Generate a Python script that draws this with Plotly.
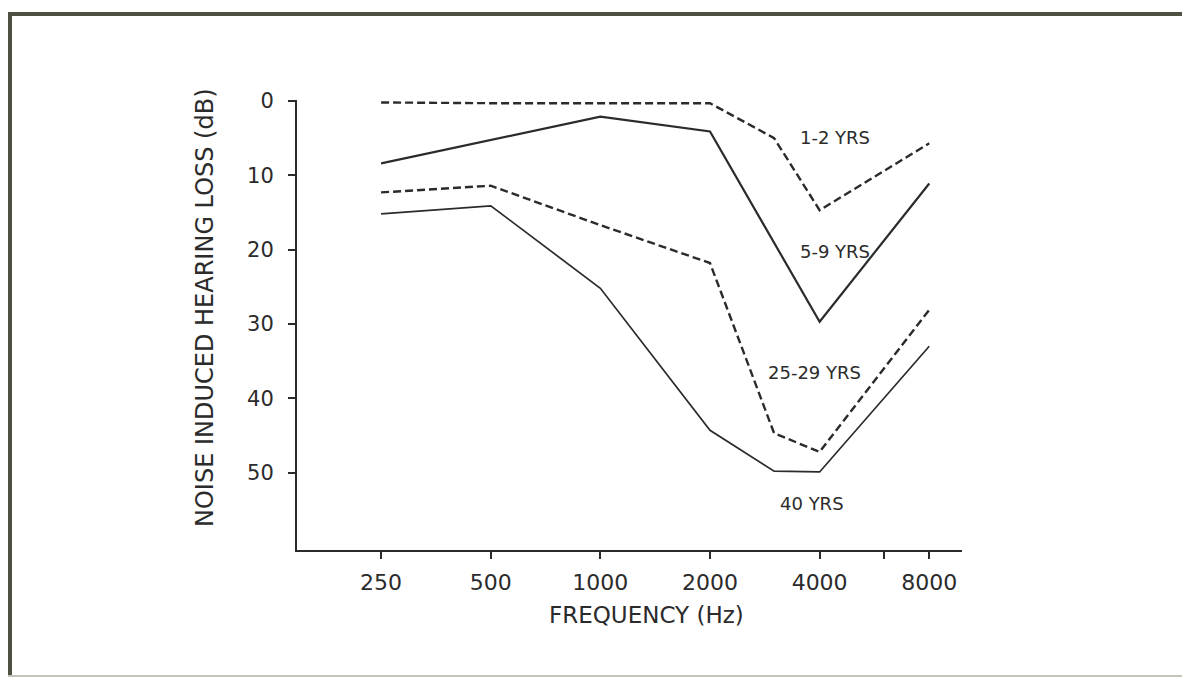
import math
import plotly.graph_objects as go

# ---- data ----
freq = [250, 500, 1000, 2000, 3000, 4000, 8000]
loss_1_2 = [0.2, 0.3, 0.3, 0.3, 5.0, 14.7, 5.7]
loss_5_9 = [8.4, 5.2, 2.1, 4.1, None, 29.7, 11.1]
loss_25_29 = [12.3, 11.4, 16.7, 21.8, 44.7, 47.2, 28.1]
loss_40 = [15.2, 14.1, 25.2, 44.3, 49.8, 49.9, 33.0]

x_tickvals = [250, 500, 1000, 2000, 4000, 6000, 8000]
x_ticktext = ["250", "500", "1000", "2000", "4000", "", "8000"]
y_tickvals = [0, 10, 20, 30, 40, 50]

series_labels = ["1-2 YRS", "5-9 YRS", "25-29 YRS", "40 YRS"]
label_freq = [4400, 4400, 3875, 3800]
label_db = [4.9, 20.2, 36.5, 54.2]

# ---- layout constants (page body adds an 8px offset) ----
OFF = 8
W, H = 1190 - 2 * OFF, 685 - 2 * OFF
L, T = 297 - OFF, 100 - OFF
R = W - (962 - OFF)
B = H - (550 - OFF)
PW, PH = W - L - R, H - T - B
INK = "#2b2b2b"
FONT = "DejaVu Sans"


def px_x(px):
    """screen x pixel -> paper coordinate"""
    return (px - OFF - L) / PW


def px_y(py):
    """screen y pixel -> paper coordinate"""
    return (H - B - (py - OFF)) / PH


fig = go.Figure()

styles = [
    (loss_1_2, dict(color=INK, width=2.4, dash="8px,4px")),
    (loss_5_9, dict(color=INK, width=2.2, dash="solid")),
    (loss_25_29, dict(color=INK, width=2.4, dash="8px,4px")),
    (loss_40, dict(color=INK, width=1.7, dash="solid")),
]
for (vals, line), name in zip(styles, series_labels):
    fig.add_trace(go.Scatter(x=freq, y=vals, mode="lines", line=line,
                             name=name, connectgaps=True, showlegend=False,
                             hoverinfo="x+y+name"))

for name, fx, dy in zip(series_labels, label_freq, label_db):
    fig.add_annotation(x=math.log10(fx), y=dy, xref="x", yref="y", text=name,
                       xanchor="center", yanchor="middle",
                       showarrow=False, font=dict(family=FONT, size=18, color=INK))

fig.add_annotation(x=px_x(205), y=px_y(308), xref="paper", yref="paper",
                   text="NOISE INDUCED HEARING LOSS (dB)", textangle=-90,
                   xanchor="center", yanchor="middle",
                   showarrow=False, font=dict(family=FONT, size=24, color=INK))
fig.add_annotation(x=px_x(646), y=px_y(615), xref="paper", yref="paper",
                   text="FREQUENCY (Hz)", showarrow=False,
                   xanchor="center", yanchor="middle",
                   font=dict(family=FONT, size=23, color=INK))

# scanned-page frame
fig.add_shape(type="line", xref="paper", yref="paper",
              x0=px_x(8), x1=px_x(1190), y0=px_y(14), y1=px_y(14),
              line=dict(color="#4f4f42", width=4))
fig.add_shape(type="line", xref="paper", yref="paper",
              x0=px_x(10), x1=px_x(10), y0=px_y(12), y1=px_y(685),
              line=dict(color="#4f4f42", width=4))
fig.add_shape(type="line", xref="paper", yref="paper",
              x0=px_x(8), x1=px_x(1182), y0=px_y(676), y1=px_y(676),
              line=dict(color="#c4c4bc", width=2))

fig.update_xaxes(type="log", range=[2.167, 3.993],
                 tickvals=x_tickvals, ticktext=x_ticktext,
                 ticks="outside", ticklen=7, tickwidth=1.5, tickcolor=INK,
                 ticklabelstandoff=5,
                 showline=True, linecolor=INK, linewidth=2,
                 showgrid=False, zeroline=False,
                 tickfont=dict(family=FONT, size=22, color=INK))
fig.update_yaxes(range=[60.4, -0.13], tickvals=y_tickvals,
                 ticks="outside", ticklen=7, tickwidth=1.5, tickcolor=INK,
                 ticklabelstandoff=10,
                 showline=True, linecolor=INK, linewidth=2,
                 showgrid=False, zeroline=False,
                 tickfont=dict(family=FONT, size=21, color=INK))

fig.update_layout(width=W, height=H,
                  margin=dict(l=L, r=R, t=T, b=B, pad=0),
                  paper_bgcolor="white", plot_bgcolor="white",
                  showlegend=False)

fig.write_html("out.html")
